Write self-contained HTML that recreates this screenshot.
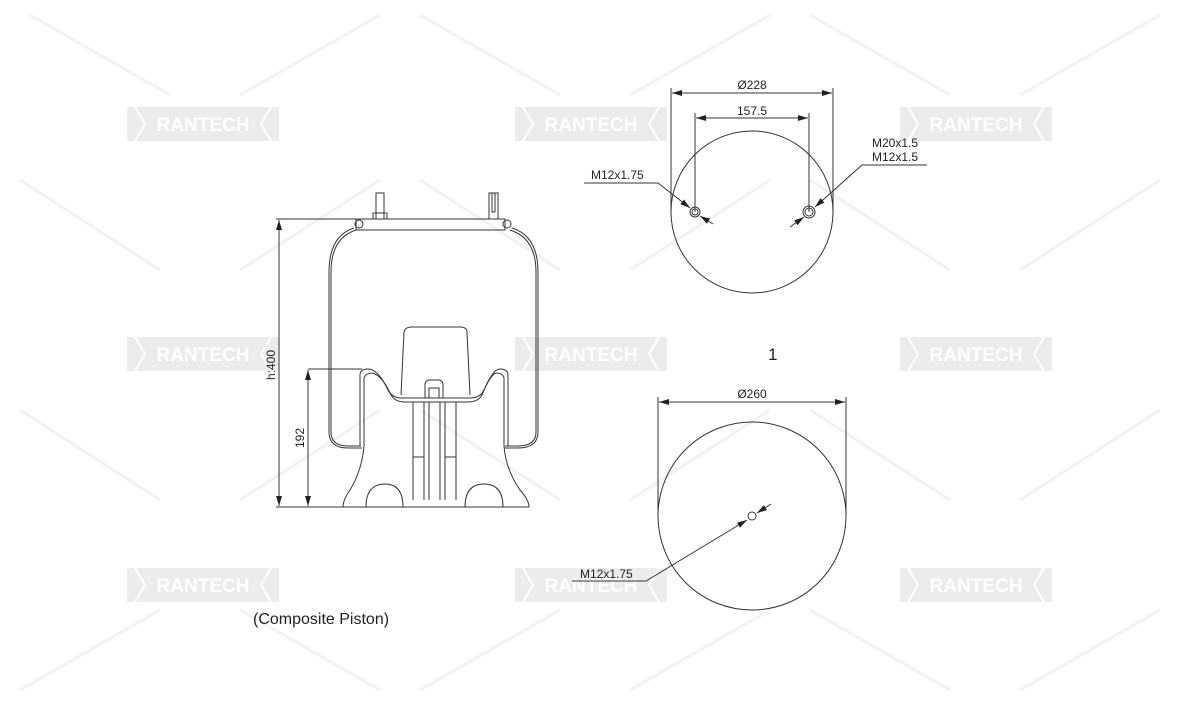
<!DOCTYPE html>
<html><head><meta charset="utf-8"><style>
html,body{margin:0;padding:0;background:#fff;width:1181px;height:709px;overflow:hidden}
svg{display:block}
text{font-family:"Liberation Sans",Arial,sans-serif;fill:#222}
</style></head><body>
<svg width="1181" height="709" viewBox="0 0 1181 709">
<defs>
<marker id="a" viewBox="0 0 10 6" refX="10" refY="3" markerWidth="10" markerHeight="6" orient="auto-start-reverse" markerUnits="userSpaceOnUse"><path d="M0,0L10,3L0,6z" fill="#222"/></marker>
</defs>
<g stroke="#f2f2f2" stroke-width="3">
<path d="M30,15L170,95M240,95L380,15M420,15L560,95M630,95L770,15M810,15L950,95M1020,95L1160,15"/>
<path d="M20,180L160,270M240,270L380,180M420,180L560,270M630,270L770,180M810,180L950,270M1020,270L1160,180"/>
<path d="M20,410L160,500M240,500L380,410M420,410L560,500M630,500L770,410M810,410L950,500M1020,500L1160,410"/>
<path d="M20,690L160,610M240,610L380,690M420,690L560,610M630,690L770,610M810,610L950,690M1020,690L1160,610"/>
</g>
<g font-size="19" font-weight="bold">
<g transform="translate(127,107)"><rect width="152" height="34" fill="#ececec"/><path d="M8,0L18,17L8,34M144,0L134,17L144,34" stroke="#fff" stroke-width="2" fill="none"/><text x="76" y="24" text-anchor="middle" style="fill:#fff">RANTECH</text></g>
<g transform="translate(515,107)"><rect width="152" height="34" fill="#ececec"/><path d="M8,0L18,17L8,34M144,0L134,17L144,34" stroke="#fff" stroke-width="2" fill="none"/><text x="76" y="24" text-anchor="middle" style="fill:#fff">RANTECH</text></g>
<g transform="translate(900,107)"><rect width="152" height="34" fill="#ececec"/><path d="M8,0L18,17L8,34M144,0L134,17L144,34" stroke="#fff" stroke-width="2" fill="none"/><text x="76" y="24" text-anchor="middle" style="fill:#fff">RANTECH</text></g>
<g transform="translate(127,337)"><rect width="152" height="34" fill="#ececec"/><path d="M8,0L18,17L8,34M144,0L134,17L144,34" stroke="#fff" stroke-width="2" fill="none"/><text x="76" y="24" text-anchor="middle" style="fill:#fff">RANTECH</text></g>
<g transform="translate(515,337)"><rect width="152" height="34" fill="#ececec"/><path d="M8,0L18,17L8,34M144,0L134,17L144,34" stroke="#fff" stroke-width="2" fill="none"/><text x="76" y="24" text-anchor="middle" style="fill:#fff">RANTECH</text></g>
<g transform="translate(900,337)"><rect width="152" height="34" fill="#ececec"/><path d="M8,0L18,17L8,34M144,0L134,17L144,34" stroke="#fff" stroke-width="2" fill="none"/><text x="76" y="24" text-anchor="middle" style="fill:#fff">RANTECH</text></g>
<g transform="translate(127,568)"><rect width="152" height="34" fill="#ececec"/><path d="M8,0L18,17L8,34M144,0L134,17L144,34" stroke="#fff" stroke-width="2" fill="none"/><text x="76" y="24" text-anchor="middle" style="fill:#fff">RANTECH</text></g>
<g transform="translate(515,568)"><rect width="152" height="34" fill="#ececec"/><path d="M8,0L18,17L8,34M144,0L134,17L144,34" stroke="#fff" stroke-width="2" fill="none"/><text x="76" y="24" text-anchor="middle" style="fill:#fff">RANTECH</text></g>
<g transform="translate(900,568)"><rect width="152" height="34" fill="#ececec"/><path d="M8,0L18,17L8,34M144,0L134,17L144,34" stroke="#fff" stroke-width="2" fill="none"/><text x="76" y="24" text-anchor="middle" style="fill:#fff">RANTECH</text></g>
</g>

<g fill="none" stroke="#333" stroke-width="1">
<path d="M276,219H366M402,219H498"/>
<path d="M356,219H505V230H356Z"/>
<circle cx="359" cy="224" r="4"/><circle cx="507" cy="224" r="4"/>
<rect x="376" y="193" width="8" height="26"/><path d="M373,219V213H387V219"/>
<rect x="489" y="193" width="9" height="26"/><path d="M492,193V212H495V193"/>
<!-- bellow outer/inner -->
<path d="M356,230Q331,238 331,272V432Q331,446 348,446H361"/>
<path d="M354,228Q329,236 329,272V432Q329,448 348,448H362"/>
<path d="M510,230Q536,238 536,272V432Q536,446 518,446H505"/>
<path d="M512,228Q538,236 538,272V432Q538,448 518,448H504"/>
<path d="M360,446V375Q360,369 368,369Q378,369 388,390Q392,398 402,398H470Q480,398 484,390Q493,369 500,369Q508,369 508,375V446"/>
<path d="M364,446V378Q366,373 372,373Q382,375 391,395Q395,402 405,402H468Q478,402 482,395Q490,375 496,373Q503,373 504,378V446"/>
<path d="M401,395L404,332Q405,327 412,327H460Q467,327 467,332L470,395"/>
<path d="M425,398V385Q425,380 430,380H438Q443,380 443,385V398"/>
<path d="M429,398V388H439V398"/>
<path d="M413,402V500M424,402V500M429,402V500M440,402V500M445,402V500M456,402V500M413,457H424M445,457H456"/>
<path d="M364,446Q362,470 350,490Q343,500 343,507H529Q529,500 520,490Q506,470 504,446"/>
<path d="M366,507Q366,484 385,484Q403,484 403,507M465,507Q465,484 484,484Q503,484 503,507"/>
<path d="M308,369H362"/>
<path d="M276,507H343"/>
<path d="M279,220V506" marker-start="url(#a)" marker-end="url(#a)"/>
<path d="M308,370V506" marker-start="url(#a)" marker-end="url(#a)"/>
<circle cx="752" cy="212" r="81"/>
<path d="M671,88V212M833,88V212M695,113V212M809,113V212"/>
<path d="M672,93H832" marker-start="url(#a)" marker-end="url(#a)"/>
<path d="M696,118H808" marker-start="url(#a)" marker-end="url(#a)"/>
<circle cx="695" cy="212" r="5"/><circle cx="695" cy="212" r="3"/>
<circle cx="809" cy="212" r="6"/><circle cx="809" cy="212" r="4"/>
<path d="M584,183H658L690,208" marker-end="url(#a)"/>
<path d="M713,224L700,216" marker-end="url(#a)"/>
<path d="M927,165H862L815,207" marker-end="url(#a)"/>
<path d="M790,227L804,217" marker-end="url(#a)"/>
<circle cx="752" cy="516" r="94"/>
<path d="M658,397V516M846,397V516"/>
<path d="M659,402H845" marker-start="url(#a)" marker-end="url(#a)"/>
<circle cx="752" cy="516" r="4"/>
<path d="M572,581H646L747,520" marker-end="url(#a)"/>
<path d="M771,504L757,513" marker-end="url(#a)"/>
</g>
<g font-size="12">
<text x="752" y="89" text-anchor="middle">Ø228</text>
<text x="752" y="115" text-anchor="middle">157.5</text>
<text x="591" y="179">M12x1.75</text>
<text x="872" y="147">M20x1.5</text>
<text x="872" y="161">M12x1.5</text>
<text x="752" y="398" text-anchor="middle">Ø260</text>
<text x="580" y="578">M12x1.75</text>
<text transform="translate(275,365) rotate(-90)" text-anchor="middle">h:400</text>
<text transform="translate(304,438) rotate(-90)" text-anchor="middle">192</text>
</g>
<text x="768" y="360" font-size="17">1</text>
<text x="253" y="624" font-size="16">(Composite Piston)</text>
</svg>
</body></html>
